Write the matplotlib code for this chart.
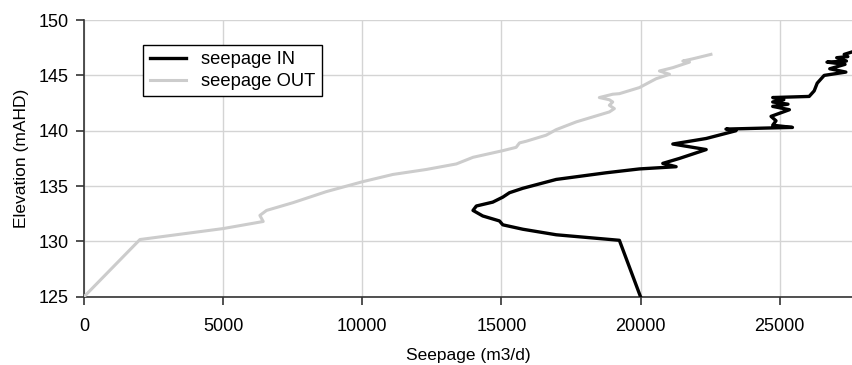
import matplotlib
matplotlib.use('Agg')
import matplotlib.pyplot as plt

plt.rcParams['font.family'] = ['Liberation Sans', 'DejaVu Sans']

# seepage IN (black)
in_x = [20000, 19240, 16970, 15770, 15050, 14930, 14330, 13980, 14100, 14690,
        15050, 15290, 15770, 16970, 18760, 19960, 21280, 20800, 21400, 22360,
        21160, 22360, 23430, 23070, 24630, 25460, 24750, 24870, 24690, 25350,
        24750, 25300, 24750, 25150, 24750, 26060, 26240, 26350, 26600, 27380,
        26800, 27350, 26700, 27400, 27050, 27450, 27320, 27700]
in_y = [125.0, 130.1, 130.6, 131.1, 131.5, 131.85, 132.3, 132.8, 133.2, 133.55,
        134.0, 134.4, 134.8, 135.6, 136.2, 136.55, 136.75, 137.05, 137.5, 138.3,
        138.8, 139.3, 140.0, 140.15, 140.25, 140.3, 140.5, 140.9, 141.3, 141.9,
        142.2, 142.4, 142.6, 142.8, 143.0, 143.1, 143.6, 144.3, 145.0, 145.3,
        145.6, 146.0, 146.2, 146.3, 146.6, 146.7, 146.9, 147.2]

# seepage OUT (light grey)
out_x = [0, 2010, 5000, 6440, 6320, 6560, 7510, 8710, 10020, 11100,
         12300, 13380, 13980, 15050, 15530, 15650, 15890, 16610, 16970, 17690,
         18880, 19060, 18880, 19000, 18880, 18520, 19000, 19240, 19960, 20560,
         21040, 20680, 21160, 21760, 21520, 21880, 22530]
out_y = [125.0, 130.17, 131.16, 131.8, 132.35, 132.8, 133.5, 134.5, 135.4, 136.05,
         136.5, 137.0, 137.6, 138.2, 138.5, 138.9, 139.05, 139.6, 140.1, 140.8,
         141.7, 142.0, 142.3, 142.6, 142.8, 143.0, 143.3, 143.35, 143.9, 144.7,
         145.1, 145.4, 145.7, 146.2, 146.3, 146.5, 146.9]

xticks = [0, 5000, 10000, 15000, 20000, 25000]
yticks = [125, 130, 135, 140, 145, 150]

fig = plt.figure(figsize=(8.52, 3.65), dpi=100)
ax = fig.add_axes([0.0986, 0.187, 0.9014, 0.758])

ax.plot(in_x, in_y, color='black', lw=2.4, label='seepage IN', zorder=3)
ax.plot(out_x, out_y, color='#cccccc', lw=2.2, label='seepage OUT', zorder=3)

ax.set_xlim(0, 27600)
ax.set_ylim(125, 150)
ax.set_xticks(xticks)
ax.set_yticks(yticks)
ax.grid(True, color='#d4d4d4', lw=1)
ax.set_axisbelow(True)
for s in ['top', 'right']:
    ax.spines[s].set_visible(False)
for s in ['left', 'bottom']:
    ax.spines[s].set_color('#333333')
    ax.spines[s].set_linewidth(1.2)
ax.tick_params(direction='out', length=6, width=1.2, color='#333333', labelsize=13)
ax.tick_params(axis='x', pad=9)
ax.tick_params(axis='y', pad=5)
ax.set_xlabel('Seepage (m3/d)', fontsize=12.5, labelpad=10)
ax.set_ylabel('Elevation (mAHD)', fontsize=12.5, labelpad=7)

leg = ax.legend(loc='upper left', bbox_to_anchor=(0.077, 0.91), fontsize=13.2,
                frameon=True, fancybox=False, shadow=False, handlelength=2.0,
                borderpad=0.35, labelspacing=0.25, borderaxespad=0)
leg.get_frame().set_edgecolor('black')
leg.get_frame().set_linewidth(1)
leg.get_frame().set_alpha(1)

plt.savefig('out.png', dpi=100)
